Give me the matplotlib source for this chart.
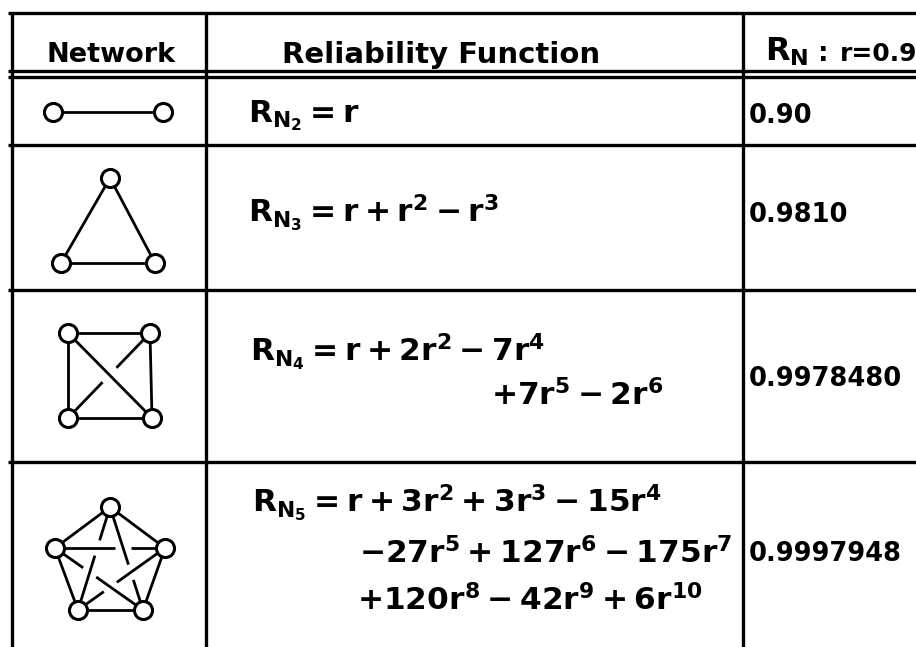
import numpy as np
import matplotlib.pyplot as plt

# table content
headers = ["Network", "Reliability Function"]
rn_head = r"$R_N$"
rn_cond = "r=0.9"

equations = [
    [r"$R_{N_2} = r$"],
    [r"$R_{N_3} = r + r^2 - r^3$"],
    [r"$R_{N_4} = r + 2r^2 - 7r^4$", r"$+7r^5 - 2r^6$"],
    [r"$R_{N_5} = r + 3r^2 + 3r^3 - 15r^4$",
     r"$-27r^5 + 127r^6 - 175r^7$",
     r"$+120r^8 - 42r^9 + 6r^{10}$"],
]
values = ["0.90", "0.9810", "0.9978480", "0.9997948"]

# networks: node positions and edges (pairs of node indices)
pair_nodes = [(53, 112), (163, 112)]
pair_edges = [(0, 1)]
tri_nodes = [(110, 178), (61, 263), (155, 263)]
tri_edges = [(0, 1), (0, 2), (1, 2)]
quad_nodes = [(68, 333), (150, 333), (68, 418), (152, 418)]
quad_edges = [(0, 1), (0, 2), (1, 3), (2, 3), (0, 3), (1, 2)]
quad_unders = [(5, 4)]
pent_nodes = [(110, 507), (55, 548), (165, 548), (78, 610), (143, 610)]
pent_edges = [(0, 1), (0, 2), (1, 3), (2, 4), (3, 4),
              (0, 3), (0, 4), (1, 2), (1, 4), (2, 3)]
pent_unders = [(7, 6), (5, 7), (8, 5), (6, 9), (9, 8)]

# layout of the scanned page (pixels)
col_edges = [12, 206, 743]
row_edges = [13, 77, 145, 290, 462]
header_rule = 71
eq_x = [[248], [248], [250, 491], [252, 359, 357]]
eq_y = [[122], [223], [362, 405], [513, 563, 610]]
val_x = 749
val_y = [123, 222, 386, 561]

plt.rcParams["font.family"] = ["DejaVu Sans"]
plt.rcParams["font.weight"] = "bold"
plt.rcParams["mathtext.fontset"] = "custom"
plt.rcParams["mathtext.rm"] = "DejaVu Sans:bold"
plt.rcParams["mathtext.it"] = "DejaVu Sans:bold"
plt.rcParams["mathtext.bf"] = "DejaVu Sans:bold"
plt.rcParams["mathtext.default"] = "rm"

fig = plt.figure(figsize=(9.16, 6.47), dpi=100)
ax = fig.add_axes([0, 0, 1, 1])
ax.set_xlim(0, 916)
ax.set_ylim(647, 0)
ax.axis("off")

# grid lines
ax.hlines(row_edges + [header_rule], 8, 916, color="black", lw=2.4)
ax.vlines(col_edges, row_edges[0], 647, color="black", lw=2.4)


def crossing_t(p1, p2, p3, p4):
    p1, p2, p3, p4 = map(np.asarray, (p1, p2, p3, p4))
    d1 = p2 - p1
    d2 = p4 - p3
    den = d1[0] * d2[1] - d1[1] * d2[0]
    diff = p3 - p1
    return (diff[0] * d2[1] - diff[1] * d2[0]) / den


def draw_network(nodes, edges, unders=(), gap=9):
    # edges listed in unders are broken where they pass under another one
    cuts = {i: [] for i in range(len(edges))}
    for u, o in unders:
        a, b = edges[u]
        c, d = edges[o]
        cuts[u].append(crossing_t(nodes[a], nodes[b], nodes[c], nodes[d]))
    for i, (a, b) in enumerate(edges):
        p, q = np.array(nodes[a], float), np.array(nodes[b], float)
        g = gap / np.hypot(*(q - p))
        bounds = [0.0]
        for t in sorted(cuts[i]):
            bounds += [t - g, t + g]
        bounds.append(1.0)
        for s, e in zip(bounds[::2], bounds[1::2]):
            s_pt = p + s * (q - p)
            e_pt = p + e * (q - p)
            ax.plot([s_pt[0], e_pt[0]], [s_pt[1], e_pt[1]], color="black",
                    lw=2.0, solid_capstyle="butt", zorder=2)
    xs, ys = zip(*nodes)
    ax.plot(xs, ys, "o", ms=13, mfc="white", mec="black", mew=2.2, zorder=3)


draw_network(pair_nodes, pair_edges)
draw_network(tri_nodes, tri_edges)
draw_network(quad_nodes, quad_edges, quad_unders, gap=10)
draw_network(pent_nodes, pent_edges, pent_unders, gap=8)

# header
ax.text(111, 62, headers[0], ha="center", va="baseline", size=19.5)
ax.text(282, 63, headers[1], ha="left", va="baseline", size=21)
ax.text(765, 61, rn_head, ha="left", va="baseline", size=23)
ax.text(818, 61, ":", ha="left", va="baseline", size=19)
ax.text(840, 61, rn_cond, ha="left", va="baseline", size=18)

# equations and values
for lines, xs, ys in zip(equations, eq_x, eq_y):
    for s, x, y in zip(lines, xs, ys):
        ax.text(x, y, s, ha="left", va="baseline", size=22.5)

for v, y in zip(values, val_y):
    ax.text(val_x, y, v, ha="left", va="baseline", size=18.5)

fig.savefig("out.png", dpi=100)
